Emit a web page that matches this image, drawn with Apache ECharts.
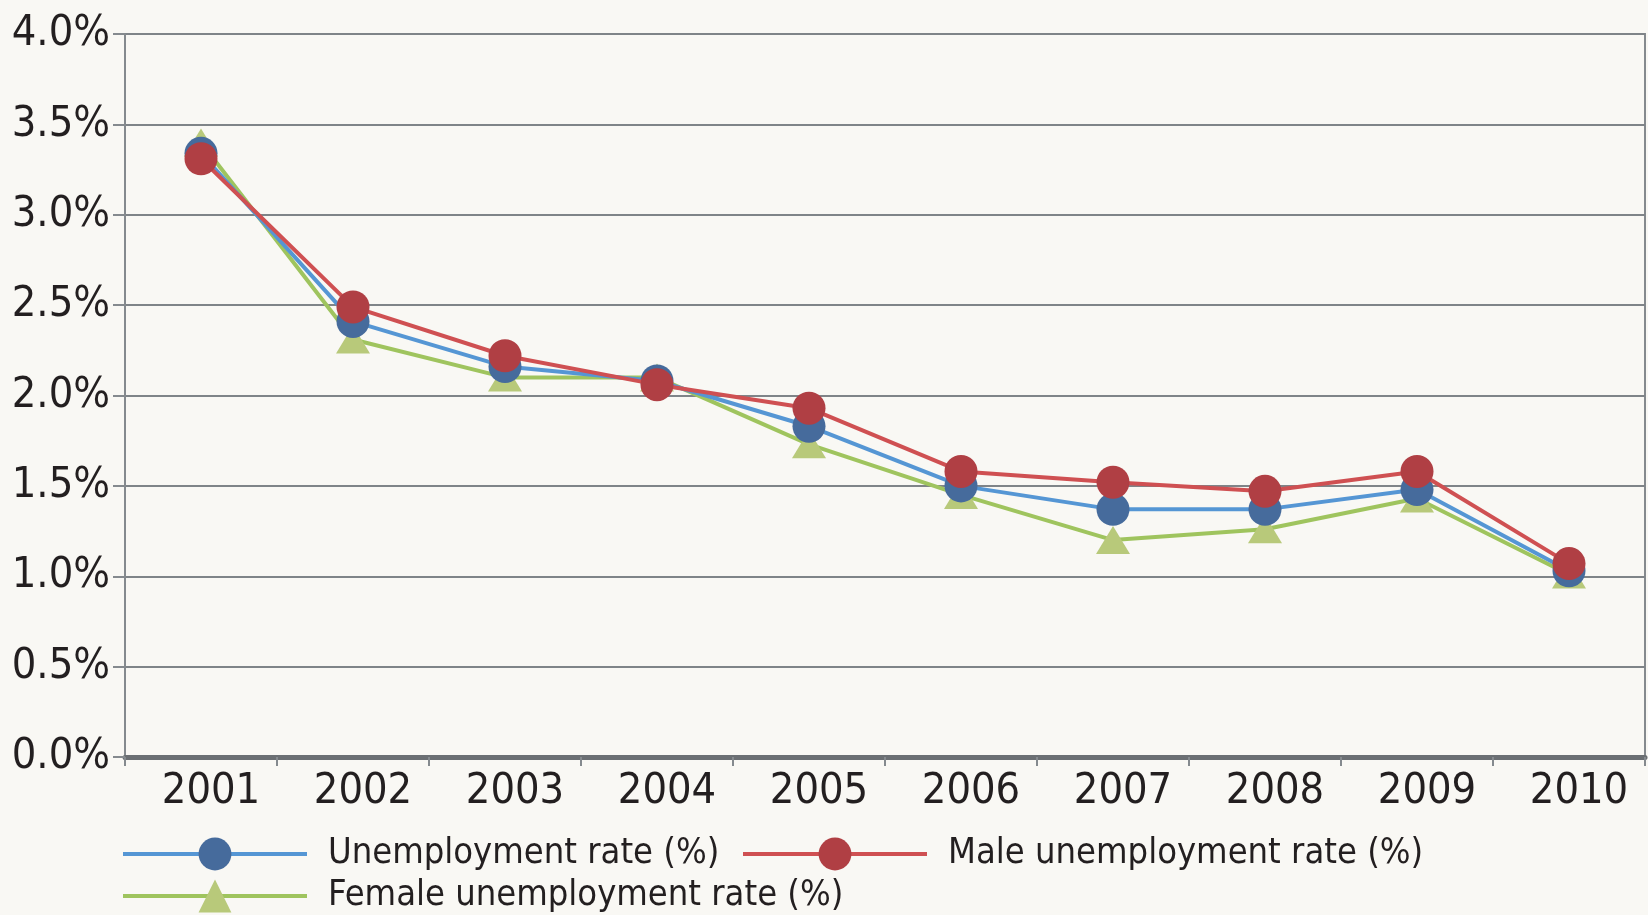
<!DOCTYPE html>
<html><head><meta charset="utf-8">
<script src="https://cdn.jsdelivr.net/npm/echarts@6/dist/echarts.min.js"></script>
<style>html,body{margin:0;padding:0;background:#f9f8f4;}#c{width:1648px;height:915px;}</style>
</head><body><div id="c"></div>
<script>
const years = ['2001','2002','2003','2004','2005','2006','2007','2008','2009','2010'];
const unemployment = [3.34, 2.41, 2.16, 2.08, 1.83, 1.50, 1.37, 1.37, 1.48, 1.03];
const male = [3.31, 2.49, 2.22, 2.06, 1.93, 1.58, 1.52, 1.47, 1.58, 1.07];
const female = [3.40, 2.31, 2.10, 2.10, 1.73, 1.45, 1.20, 1.26, 1.43, 1.01];
const yTicks = ['0.0%','0.5%','1.0%','1.5%','2.0%','2.5%','3.0%','3.5%','4.0%'];

const FONT = '"DejaVu Sans Condensed","DejaVu Sans",sans-serif';
const TXT = '#231f20';
const legendBase = {orient: 'horizontal', itemWidth: 184, itemHeight: 41, padding: 0,
  lineStyle: {width: 4},
  textStyle: {color: TXT, fontFamily: FONT, fontSize: 36, padding: [0,0,0,16]}};
const chart = echarts.init(document.getElementById('c'));
chart.setOption({
  backgroundColor: '#f9f8f4',
  animation: false,
  grid: {left: 125, right: 3, top: 34, bottom: 158, show: true, borderColor: '#858a8e', borderWidth: 2, backgroundColor: 'transparent'},
  xAxis: {
    type: 'category', data: years, boundaryGap: true,
    axisLine: {show: true, lineStyle: {color: '#6b6f73', width: 5}},
    axisTick: {show: true, length: 9, lineStyle: {color: '#858a8e', width: 2}},
    axisLabel: {color: TXT, fontFamily: FONT, fontSize: 43, margin: 13, padding: [0,0,0,20]},
    splitLine: {show: false}
  },
  yAxis: {
    type: 'value', min: 0, max: 4, interval: 0.5,
    axisLine: {show: true, lineStyle: {color: '#858a8e', width: 2}},
    axisTick: {show: true, length: 12, lineStyle: {color: '#858a8e', width: 2}},
    axisLabel: {color: TXT, fontFamily: FONT, fontSize: 43, margin: 15,
      formatter: v => yTicks[Math.round(v / 0.5)]},
    splitLine: {show: true, lineStyle: {color: '#7f8488', width: 2}}
  },
  legend: [
    Object.assign({}, legendBase, {data: ['Unemployment rate (%)'], left: 121, top: 836}),
    Object.assign({}, legendBase, {data: ['Male unemployment rate (%)'], left: 741, top: 836}),
    Object.assign({}, legendBase, {data: ['Female unemployment rate (%)'], left: 121, top: 878})
  ],
  series: [
    {name: 'Female unemployment rate (%)', type: 'line', data: female, symbol: 'triangle', symbolSize: [34, 28],
     lineStyle: {color: '#9fc45e', width: 4}, itemStyle: {color: '#b8c97a'}, z: 2},
    {name: 'Unemployment rate (%)', type: 'line', data: unemployment, symbol: 'circle', symbolSize: 33,
     lineStyle: {color: '#5596d4', width: 4}, itemStyle: {color: '#466b9c'}, z: 3},
    {name: 'Male unemployment rate (%)', type: 'line', data: male, symbol: 'circle', symbolSize: 33,
     lineStyle: {color: '#cf5052', width: 4}, itemStyle: {color: '#b03f44'}, z: 4}
  ]
});
</script></body></html>
